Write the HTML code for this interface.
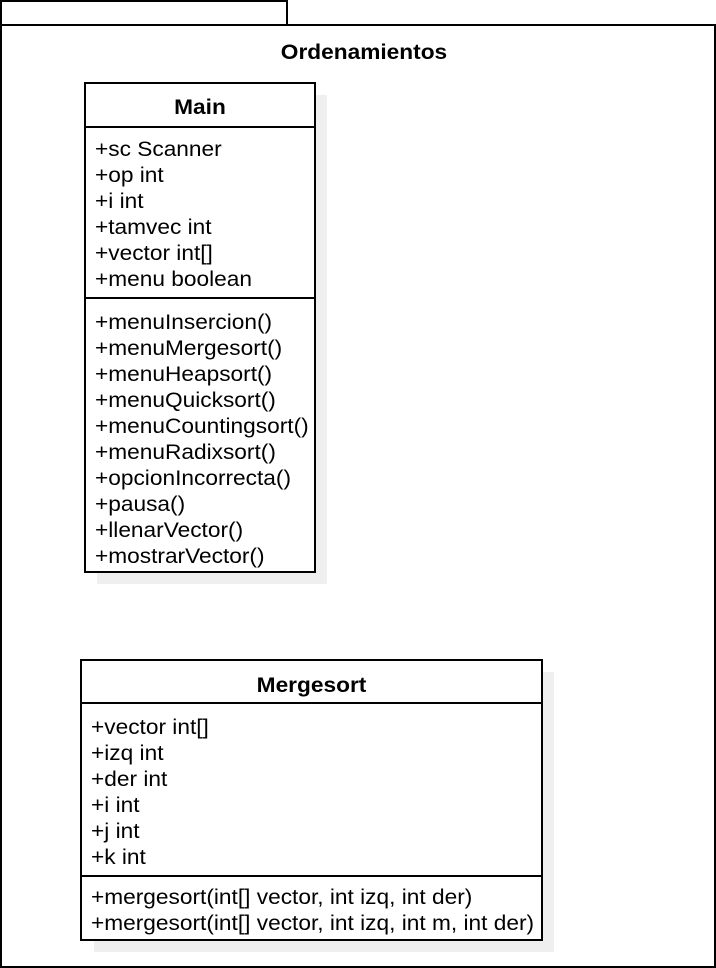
<!DOCTYPE html>
<html><head><meta charset="utf-8"><style>
body{margin:0;width:716px;height:968px;background:#fff;position:relative;overflow:hidden;font-family:"Liberation Sans",Arial,sans-serif;}
.b{position:absolute;box-sizing:border-box;border:2px solid #000;background:#fff;}
.sh{position:absolute;background:#efefef;}
.hl{position:absolute;height:2px;background:#000;}
.t{position:absolute;font-size:21px;line-height:26px;white-space:pre;color:#000;transform:scaleX(1.08);transform-origin:0 0;}
.h{position:absolute;font-weight:bold;font-size:21px;text-align:center;transform:scaleX(1.08);}
</style></head><body>
<div class="b" style="left:0;top:0;width:288px;height:27px;"></div>
<div class="b" style="left:0;top:24px;width:716px;height:944px;"></div>
<div class="h" style="left:0;top:41px;width:728px;">Ordenamientos</div>

<div class="sh" style="left:97px;top:95px;width:230px;height:489px;"></div>
<div class="b" style="left:84px;top:82px;width:232px;height:491px;"></div>
<div class="h" style="left:84px;top:96px;width:232px;">Main</div>
<div class="hl" style="left:84px;top:126px;width:232px;"></div>
<div class="hl" style="left:84px;top:297px;width:232px;"></div>
<div class="t" style="left:95px;top:137px;">+sc Scanner
+op int
+i int
+tamvec int
+vector int[]
+menu boolean</div>
<div class="t" style="left:95px;top:310px;">+menuInsercion()
+menuMergesort()
+menuHeapsort()
+menuQuicksort()
+menuCountingsort()
+menuRadixsort()
+opcionIncorrecta()
+pausa()
+llenarVector()
+mostrarVector()</div>

<div class="sh" style="left:94px;top:672px;width:460px;height:280px;"></div>
<div class="b" style="left:80px;top:659px;width:463px;height:282px;"></div>
<div class="h" style="left:80px;top:674px;width:463px;">Mergesort</div>
<div class="hl" style="left:80px;top:702px;width:463px;"></div>
<div class="hl" style="left:80px;top:875px;width:463px;"></div>
<div class="t" style="left:91px;top:715px;">+vector int[]
+izq int
+der int
+i int
+j int
+k int</div>
<div class="t" style="left:91px;top:885px;">+mergesort(int[] vector, int izq, int der)
+mergesort(int[] vector, int izq, int m, int der)</div>
</body></html>
